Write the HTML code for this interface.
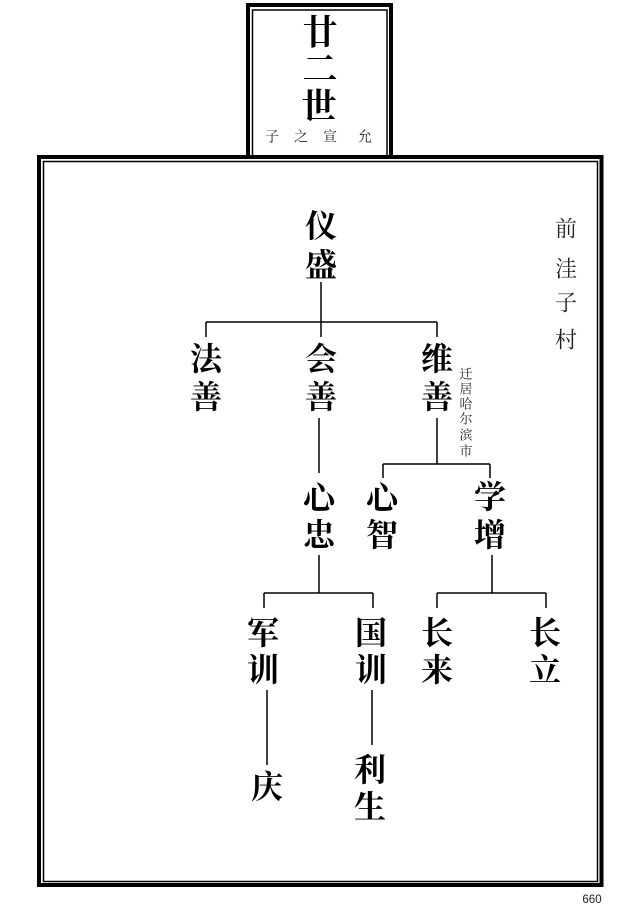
<!DOCTYPE html>
<html><head><meta charset="utf-8">
<style>
html,body{margin:0;padding:0;background:#fff;}
body{width:641px;height:911px;overflow:hidden;}
svg{display:block;}
.b{font-family:"Liberation Serif","Noto Serif CJK SC",serif;font-weight:700;font-size:32px;fill:#000;}
.t{font-family:"Liberation Serif","Noto Serif CJK SC",serif;font-weight:700;font-size:35px;fill:#000;}
.s{font-family:"Liberation Serif","Noto Serif CJK SC",serif;font-weight:normal;fill:#222;}
</style></head><body>
<svg width="641" height="911" viewBox="0 0 641 911" xmlns="http://www.w3.org/2000/svg">
<rect x="0" y="0" width="641" height="911" fill="#fff"/>
<!-- top box -->
<rect x="248" y="5" width="143" height="153" fill="none" stroke="#000" stroke-width="4"/>
<rect x="252.5" y="10" width="134.5" height="148" fill="none" stroke="#000" stroke-width="1.5"/>
<!-- main frame -->
<rect x="39" y="157" width="562.5" height="728" fill="#fff" stroke="#000" stroke-width="4"/>
<rect x="43.5" y="161.5" width="554" height="720" fill="none" stroke="#000" stroke-width="1.5"/>

<g text-anchor="middle" dominant-baseline="central">
<text class="t" x="320" y="33">廿</text>
<text class="t" x="320" y="70">二</text>
<text class="t" x="319" y="107">世</text>
<text class="s" font-size="14" x="272" y="138">子</text>
<text class="s" font-size="14" x="301" y="138">之</text>
<text class="s" font-size="14" x="330" y="138">宣</text>
<text class="s" font-size="14" x="365" y="138">允</text>

<text class="s" font-size="22" x="566" y="229">前</text>
<text class="s" font-size="22" x="566" y="269">洼</text>
<text class="s" font-size="22" x="566" y="303">子</text>
<text class="s" font-size="22" x="566" y="340">村</text>

<text class="s" font-size="13" x="466" y="374">迁</text>
<text class="s" font-size="13" x="466" y="389">居</text>
<text class="s" font-size="13" x="466" y="404">哈</text>
<text class="s" font-size="13" x="466" y="419">尔</text>
<text class="s" font-size="13" x="466" y="435">滨</text>
<text class="s" font-size="13" x="466" y="451">市</text>

<text class="b" x="321" y="226">仪</text>
<text class="b" x="321" y="265">盛</text>

<text class="b" x="206" y="359">法</text>
<text class="b" x="206" y="397">善</text>
<text class="b" x="321" y="359">会</text>
<text class="b" x="321" y="397">善</text>
<text class="b" x="437" y="359">维</text>
<text class="b" x="437" y="397">善</text>

<text class="b" x="319" y="498">心</text>
<text class="b" x="319" y="535">忠</text>
<text class="b" x="382" y="498">心</text>
<text class="b" x="382" y="535">智</text>
<text class="b" x="490" y="497">学</text>
<text class="b" x="490" y="535">增</text>

<text class="b" x="263" y="633">军</text>
<text class="b" x="263" y="670">训</text>
<text class="b" x="371" y="633">国</text>
<text class="b" x="371" y="670">训</text>
<text class="b" x="437" y="633">长</text>
<text class="b" x="437" y="670">来</text>
<text class="b" x="545" y="633">长</text>
<text class="b" x="545" y="670">立</text>

<text class="b" x="267" y="787">庆</text>
<text class="b" x="370" y="770">利</text>
<text class="b" x="370" y="807">生</text>
</g>

<g stroke="#000" stroke-width="1.5" fill="none">
<line x1="321" y1="282" x2="321" y2="337"/>
<line x1="206" y1="322" x2="437" y2="322"/>
<line x1="206" y1="322" x2="206" y2="337"/>
<line x1="437" y1="322" x2="437" y2="337"/>

<line x1="319" y1="418" x2="319" y2="473"/>
<line x1="437" y1="418" x2="437" y2="464"/>
<line x1="383" y1="464" x2="490" y2="464"/>
<line x1="383" y1="464" x2="383" y2="478"/>
<line x1="490" y1="464" x2="490" y2="478"/>

<line x1="319" y1="555" x2="319" y2="593"/>
<line x1="264" y1="593" x2="373" y2="593"/>
<line x1="264" y1="593" x2="264" y2="608"/>
<line x1="373" y1="593" x2="373" y2="608"/>

<line x1="492" y1="555" x2="492" y2="593"/>
<line x1="437" y1="593" x2="546" y2="593"/>
<line x1="437" y1="593" x2="437" y2="608"/>
<line x1="546" y1="593" x2="546" y2="608"/>

<line x1="267" y1="690" x2="267" y2="765"/>
<line x1="372" y1="690" x2="372" y2="745"/>
</g>

<text x="592" y="903" text-anchor="middle" font-family="'Liberation Sans', sans-serif" font-size="11.5" fill="#222">660</text>
</svg>
</body></html>
